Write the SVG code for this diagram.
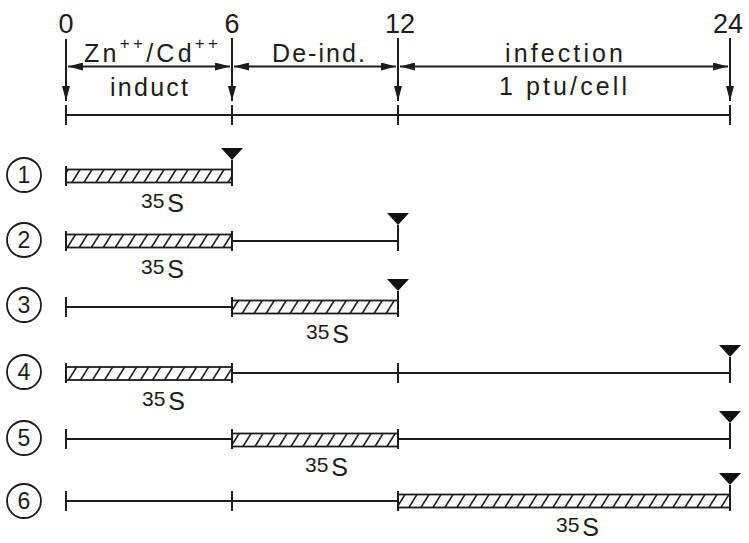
<svg xmlns="http://www.w3.org/2000/svg" width="749" height="543" viewBox="0 0 749 543">
<style>
.ln{stroke:#1c1c1c;stroke-width:2;fill:none}
.bar{fill:url(#hatch);stroke:#1c1c1c;stroke-width:1.8}
.tri{fill:#111}
.t{font-family:"Liberation Sans",Arial,sans-serif;fill:#1c1c1c}
.num{font-size:27px;text-anchor:middle}
.lab{font-size:25px}
.cn{font-size:23px;text-anchor:middle}
.circ{fill:none;stroke:#1c1c1c;stroke-width:1.8}
.iso{font-size:21px}
</style>
<defs>
<pattern id="hatch" patternUnits="userSpaceOnUse" width="12" height="10" patternTransform="skewX(-32)">
<line x1="6" y1="-1" x2="6" y2="11" stroke="#1c1c1c" stroke-width="1.9"/>
</pattern>
<marker id="ah" viewBox="0 0 15 8" refX="15" refY="4" markerWidth="15" markerHeight="8" markerUnits="userSpaceOnUse" orient="auto-start-reverse">
<path d="M0,0 L15,4 L0,8 z" fill="#1c1c1c"/>
</marker>
</defs>

<g id="header">
<text class="t num" x="66" y="33">0</text>
<text class="t num" x="232" y="33">6</text>
<text class="t num" x="400" y="33">12</text>
<text class="t num" x="728" y="33">24</text>
<text class="t lab" x="84" y="62" textLength="134" lengthAdjust="spacing">Zn<tspan font-size="17" dy="-13">++</tspan><tspan dy="13">/Cd</tspan><tspan font-size="17" dy="-13">++</tspan></text>
<text class="t lab" x="110" y="96" textLength="78" lengthAdjust="spacing">induct</text>
<text class="t lab" x="272" y="62" textLength="93" lengthAdjust="spacing">De-ind.</text>
<text class="t lab" x="505" y="62" textLength="118" lengthAdjust="spacing">infection</text>
<text class="t lab" x="499" y="95" textLength="128" lengthAdjust="spacing">1 ptu/cell</text>
</g>

<g id="connectors">
<line class="ln" x1="66" y1="39" x2="66" y2="101" marker-end="url(#ah)"/>
<line class="ln" x1="232" y1="38" x2="232" y2="101" marker-end="url(#ah)"/>
<line class="ln" x1="398" y1="38" x2="398" y2="101" marker-end="url(#ah)"/>
<line class="ln" x1="730" y1="38" x2="730" y2="101" marker-end="url(#ah)"/>
<line class="ln" x1="68" y1="66.5" x2="230" y2="66.5" marker-start="url(#ah)" marker-end="url(#ah)"/>
<line class="ln" x1="234" y1="66.5" x2="396" y2="66.5" marker-start="url(#ah)" marker-end="url(#ah)"/>
<line class="ln" x1="400" y1="66.5" x2="728" y2="66.5" marker-start="url(#ah)" marker-end="url(#ah)"/>
</g>

<g id="axis">
<line class="ln" x1="66" y1="115" x2="730" y2="115"/>
<path class="ln" d="M66,105V125M232,105V125M398,105V125M730,105V125"/>
</g>

<g id="row1">
<circle class="circ" cx="24" cy="175" r="17"/>
<text class="t cn" x="24" y="183">1</text>
<rect class="bar" x="66" y="169.5" width="166" height="13"/>
<path class="ln" d="M66,166V186M232,160V186"/>
<polygon class="tri" points="221,148 243,148 232,160"/>
<text class="t iso" x="141" y="208">35<tspan font-size="25" dx="3" dy="4">S</tspan></text>
</g>

<g id="row2">
<circle class="circ" cx="24" cy="240" r="17"/>
<text class="t cn" x="24" y="248">2</text>
<rect class="bar" x="66" y="234.5" width="166" height="13"/>
<line class="ln" x1="232" y1="241" x2="398" y2="241"/>
<path class="ln" d="M66,231V251M232,231V251M398,225V251"/>
<polygon class="tri" points="387,213 409,213 398,225"/>
<text class="t iso" x="141" y="274">35<tspan font-size="25" dx="3" dy="4">S</tspan></text>
</g>

<g id="row3">
<circle class="circ" cx="24" cy="305" r="17"/>
<text class="t cn" x="24" y="313">3</text>
<line class="ln" x1="66" y1="307" x2="232" y2="307"/>
<rect class="bar" x="232" y="300.5" width="166" height="13"/>
<path class="ln" d="M66,297V317M232,297V317M398,291V317"/>
<polygon class="tri" points="387,279 409,279 398,291"/>
<text class="t iso" x="306" y="339">35<tspan font-size="25" dx="3" dy="4">S</tspan></text>
</g>

<g id="row4">
<circle class="circ" cx="24" cy="372" r="17"/>
<text class="t cn" x="24" y="380">4</text>
<rect class="bar" x="66" y="367" width="166" height="13"/>
<line class="ln" x1="232" y1="373" x2="730" y2="373"/>
<path class="ln" d="M66,363V383M232,363V383M398,363V383M730,357V383"/>
<polygon class="tri" points="719,345 741,345 730,357"/>
<text class="t iso" x="142" y="406">35<tspan font-size="25" dx="3" dy="4">S</tspan></text>
</g>

<g id="row5">
<circle class="circ" cx="24" cy="438" r="17"/>
<text class="t cn" x="24" y="446">5</text>
<line class="ln" x1="66" y1="439" x2="232" y2="439"/>
<rect class="bar" x="232" y="433.5" width="166" height="13"/>
<line class="ln" x1="398" y1="439" x2="730" y2="439"/>
<path class="ln" d="M66,429V449M232,429V449M398,429V449M730,423V449"/>
<polygon class="tri" points="719,411 741,411 730,423"/>
<text class="t iso" x="305" y="472">35<tspan font-size="25" dx="3" dy="4">S</tspan></text>
</g>

<g id="row6">
<circle class="circ" cx="24" cy="501" r="17"/>
<text class="t cn" x="24" y="509">6</text>
<line class="ln" x1="66" y1="501" x2="398" y2="501"/>
<rect class="bar" x="398" y="494.5" width="332" height="13"/>
<path class="ln" d="M66,491V511M232,491V511M398,491V511M730,485V511"/>
<polygon class="tri" points="719,473 741,473 730,485"/>
<text class="t iso" x="556" y="532">35<tspan font-size="25" dx="3" dy="4">S</tspan></text>
</g>
</svg>
